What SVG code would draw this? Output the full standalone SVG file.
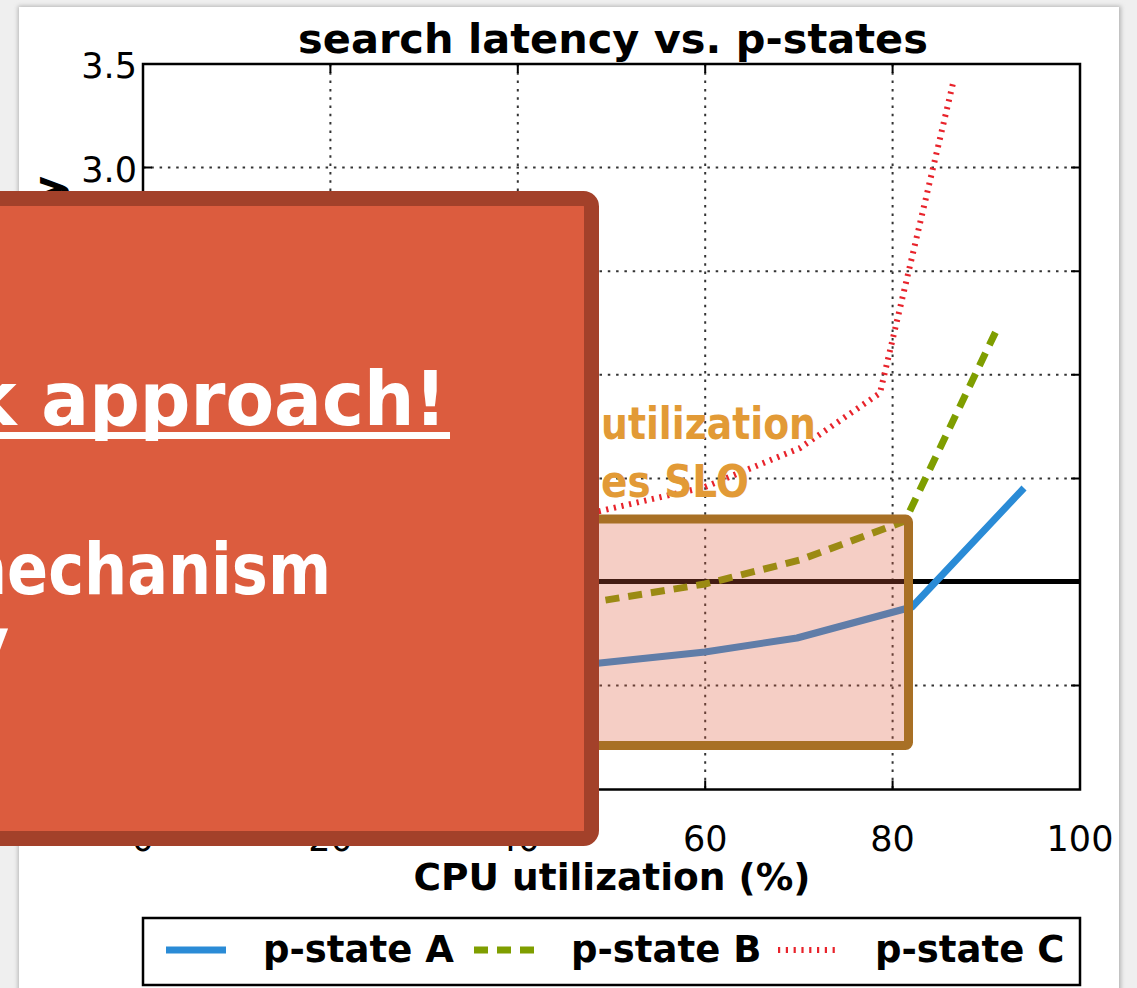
<svg xmlns="http://www.w3.org/2000/svg" width="1137" height="988" viewBox="0 0 1137 988">
  <defs>
    <filter id="soft" x="-5%" y="-5%" width="110%" height="110%">
      <feGaussianBlur stdDeviation="2"/>
    </filter>
    <style>
      .txt{font-family:"DejaVu Sans","Liberation Sans",sans-serif;fill:#000}
      .b{font-weight:bold}
      .grid{stroke:#333;stroke-width:2;stroke-dasharray:2.5 5.8;fill:none}
      .tk{stroke:#000;stroke-width:2;fill:none}
      .slide{font-family:"DejaVu Sans","Liberation Sans",sans-serif;font-weight:bold}
      .sA{fill:none;stroke:#2a8bd6;stroke-width:7;stroke-linejoin:round}
      .sB{fill:none;stroke:#7f9e00;stroke-width:7;stroke-dasharray:14 9}
      .sC{fill:none;stroke:#e8232b;stroke-width:6;stroke-dasharray:2.2 5.6}
    </style>
  </defs>

  <!-- page background and card -->
  <rect x="0" y="0" width="1137" height="988" fill="#efefef"/>
  <rect x="18" y="6" width="1103" height="990" fill="#b5b5b5" filter="url(#soft)"/>
  <rect x="19" y="7" width="1100" height="990" fill="#ffffff"/>

  <!-- chart -->
  <g id="chart">
    <g id="grid">
      <path class="grid" d="M143,167.6H1080M143,271.2H1080M143,374.8H1080M143,478.4H1080M143,685.6H1080"/>
      <path class="grid" d="M330.4,64V789.5M517.8,64V789.5M705.2,64V789.5M892.6,64V789.5"/>
    </g>
    <g id="ticks">
      <path class="tk" d="M143,167.6h9M143,271.2h9M143,374.8h9M143,478.4h9M143,582h9M143,685.6h9
                         M1080,167.6h-9M1080,271.2h-9M1080,374.8h-9M1080,478.4h-9M1080,582h-9M1080,685.6h-9
                         M330.4,789.5v-9M517.8,789.5v-9M705.2,789.5v-9M892.6,789.5v-9
                         M330.4,64v9M517.8,64v9M705.2,64v9M892.6,64v9"/>
    </g>

    <g id="slo-line">
      <line x1="143" y1="581.5" x2="1080" y2="581.5" stroke="#000" stroke-width="5"/>
    </g>

    <g id="series">
      <polyline id="p-state-A" class="sA" points="560,668 600,663 705,652 797,638 912,607 1024,488"/>
      <polyline id="p-state-B" class="sB" points="560,607 600,601 705,584 800,560 905,521 998,327"/>
      <polyline id="p-state-C" class="sC" points="560,517 600,511 705,487 800,448 880,393 954,79"/>
    </g>

    <rect id="axes-frame" x="143" y="64" width="937" height="725.5" fill="none" stroke="#000" stroke-width="2.5"/>

    <g id="labels" class="txt">
      <text class="b" x="613" y="53" font-size="41.5" text-anchor="middle">search latency vs. p-states</text>
      <text x="137" y="78" font-size="35" text-anchor="end">3.5</text>
      <text x="137" y="181.5" font-size="35" text-anchor="end">3.0</text>
      <text x="143" y="851" font-size="35" text-anchor="middle">0</text>
      <text x="330.4" y="851" font-size="35" text-anchor="middle">20</text>
      <text x="517.8" y="851" font-size="35" text-anchor="middle">40</text>
      <text x="705.2" y="851" font-size="35" text-anchor="middle">60</text>
      <text x="892.6" y="851" font-size="35" text-anchor="middle">80</text>
      <text x="1080" y="851" font-size="35" text-anchor="middle">100</text>
      <text class="b" x="612" y="890" font-size="37.5" text-anchor="middle">CPU utilization (%)</text>
      <text class="b" transform="translate(61,176) rotate(-90)" font-size="37" text-anchor="end">y</text>
    </g>

    <g id="legend">
      <rect x="143" y="918" width="937" height="67" fill="#fff" stroke="#000" stroke-width="2.5"/>
      <line class="sA" x1="166" y1="950" x2="226" y2="950"/>
      <line class="sB" x1="474" y1="950" x2="534" y2="950"/>
      <line class="sC" x1="778" y1="950" x2="838" y2="950"/>
      <g class="txt b" font-size="37">
        <text x="263" y="962">p-state A</text>
        <text x="571" y="962">p-state B</text>
        <text x="875" y="962">p-state C</text>
      </g>
    </g>
  </g>

  <!-- highlighted operating region -->
  <g id="slo-region">
    <rect x="540" y="519" width="368.5" height="226.5" rx="3" fill="#dd5c3e" fill-opacity="0.3"
          stroke="#a87025" stroke-width="9"/>
  </g>

  <g id="region-note" class="slide" fill="#e29a36" font-size="45">
    <text x="601" y="439" textLength="215" lengthAdjust="spacingAndGlyphs">utilization</text>
    <text x="601" y="497" textLength="148" lengthAdjust="spacingAndGlyphs">es SLO</text>
  </g>

  <!-- callout panel -->
  <g id="callout">
    <rect x="-30" y="198.5" width="621.5" height="640" rx="8" fill="#dc5c3e" stroke="#a3412a" stroke-width="15"/>
    <g class="slide" fill="#ffffff">
      <text x="-30.4" y="425" font-size="75" textLength="477" lengthAdjust="spacingAndGlyphs">k approach!</text>
      <rect x="-10" y="432" width="460" height="7"/>
      <text x="-56" y="594" font-size="72" textLength="387" lengthAdjust="spacingAndGlyphs">mechanism</text>
      <text x="-30" y="662" font-size="60">y</text>
    </g>
  </g>
</svg>
